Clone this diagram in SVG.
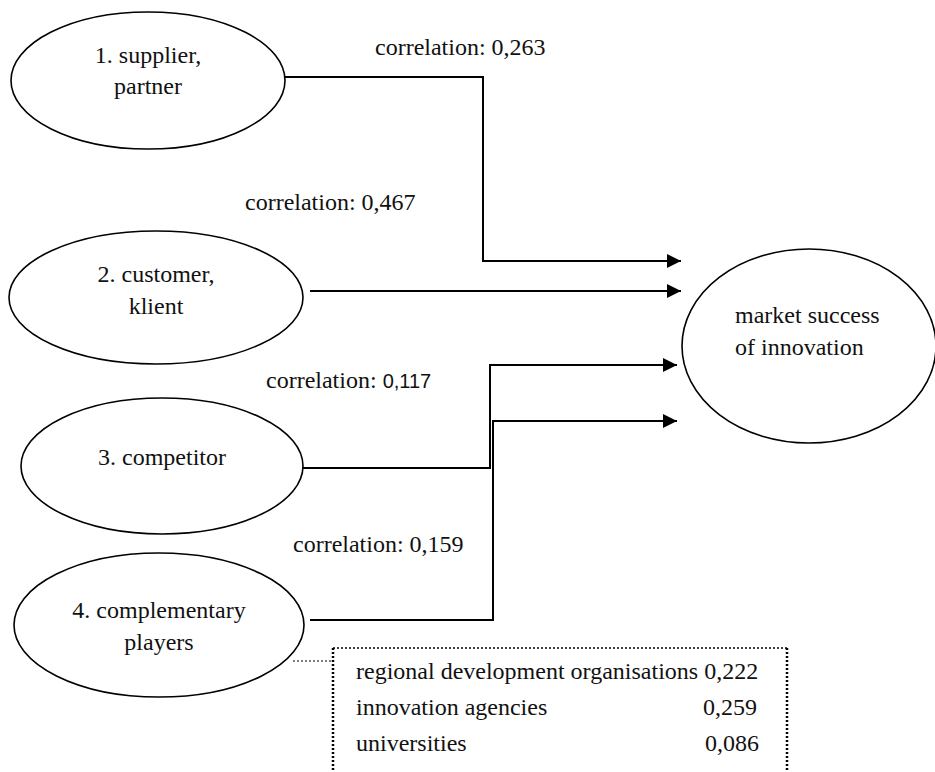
<svg xmlns="http://www.w3.org/2000/svg" width="935" height="772" viewBox="0 0 935 772">
  <style>
    .node { fill: #fff; stroke: #000; stroke-width: 1.6; }
    .wire { fill: none; stroke: #000; stroke-width: 2; }
    .dots { fill: none; stroke: #000; stroke-dasharray: 2 2; }
  </style>
  <defs>
    <marker id="arrow" viewBox="0 0 14 14" refX="14" refY="7" markerWidth="14" markerHeight="14" markerUnits="userSpaceOnUse" orient="auto">
      <path d="M0,0 L14,7 L0,14 Z" fill="#000"/>
    </marker>
  </defs>
  <rect width="935" height="772" fill="#fff"/>

  <!-- connectors -->
  <g id="connectors">
    <line class="wire" stroke-width="2.4" x1="285" y1="77" x2="355" y2="77"/>
    <polyline class="wire" points="355,77 483,77 483,261 681,261" marker-end="url(#arrow)"/>
    <line class="wire" x1="310" y1="291" x2="681" y2="291" marker-end="url(#arrow)"/>
    <polyline class="wire" points="303,468 490,468 490,365 677,365" marker-end="url(#arrow)"/>
    <polyline class="wire" points="310,620 493,620 493,421 677,421" marker-end="url(#arrow)"/>
    <line class="dots" stroke-width="1" stroke-dasharray="1.5 1.5" x1="293" y1="661" x2="333" y2="661"/>
  </g>

  <!-- correlation labels -->
  <g id="labels">
    <text x="375" y="55" font-family="'Liberation Serif', serif" font-size="24" fill="#111">correlation: 0,263</text>
    <text x="245" y="210" font-family="'Liberation Serif', serif" font-size="24" fill="#111">correlation: 0,467</text>
    <text x="266" y="388" font-family="'Liberation Serif', serif" font-size="24" fill="#111">correlation: <tspan font-family="'Liberation Sans', sans-serif" font-size="20">0,117</tspan></text>
    <text x="293" y="552" font-family="'Liberation Serif', serif" font-size="24" fill="#111">correlation: 0,159</text>
  </g>

  <g id="supplier">
    <ellipse class="node" cx="148" cy="80.5" rx="137" ry="68.5"/>
    <text x="148" y="63" text-anchor="middle" font-family="'Liberation Serif', serif" font-size="24" fill="#111">1. supplier,</text>
    <text x="148" y="94" text-anchor="middle" font-family="'Liberation Serif', serif" font-size="24" fill="#111">partner</text>
  </g>

  <g id="customer">
    <ellipse class="node" cx="156" cy="297.5" rx="147" ry="66.5"/>
    <text x="156" y="282" text-anchor="middle" font-family="'Liberation Serif', serif" font-size="24" fill="#111">2. customer,</text>
    <text x="156" y="314" text-anchor="middle" font-family="'Liberation Serif', serif" font-size="24" fill="#111">klient</text>
  </g>

  <g id="competitor">
    <ellipse class="node" cx="162" cy="466" rx="141" ry="68"/>
    <text x="162" y="465" text-anchor="middle" font-family="'Liberation Serif', serif" font-size="24" fill="#111">3. competitor</text>
  </g>

  <g id="complementary">
    <ellipse class="node" cx="159" cy="625" rx="145" ry="72"/>
    <text x="159" y="618" text-anchor="middle" font-family="'Liberation Serif', serif" font-size="24" fill="#111">4. complementary</text>
    <text x="159" y="650" text-anchor="middle" font-family="'Liberation Serif', serif" font-size="24" fill="#111">players</text>
  </g>

  <g id="market">
    <ellipse class="node" cx="809" cy="346" rx="127" ry="97"/>
    <text x="735" y="323" font-family="'Liberation Serif', serif" font-size="24" fill="#111">market success</text>
    <text x="735" y="355" font-family="'Liberation Serif', serif" font-size="24" fill="#111">of innovation</text>
  </g>

  <g id="partners-box">
    <line class="dots" stroke-width="1.5" x1="333" y1="648" x2="787" y2="648"/>
    <line class="dots" stroke-width="2.5" x1="333" y1="648" x2="333" y2="772"/>
    <line class="dots" stroke-width="2.5" x1="787" y1="648" x2="787" y2="772"/>
    <text x="356" y="679" font-family="'Liberation Serif', serif" font-size="24" fill="#111">regional development organisations 0,222</text>
    <text x="356" y="715" font-family="'Liberation Serif', serif" font-size="24" fill="#111">innovation agencies</text>
    <text x="757" y="715" text-anchor="end" font-family="'Liberation Serif', serif" font-size="24" fill="#111">0,259</text>
    <text x="356" y="751" font-family="'Liberation Serif', serif" font-size="24" fill="#111">universities</text>
    <text x="759" y="751" text-anchor="end" font-family="'Liberation Serif', serif" font-size="24" fill="#111">0,086</text>
  </g>
</svg>
